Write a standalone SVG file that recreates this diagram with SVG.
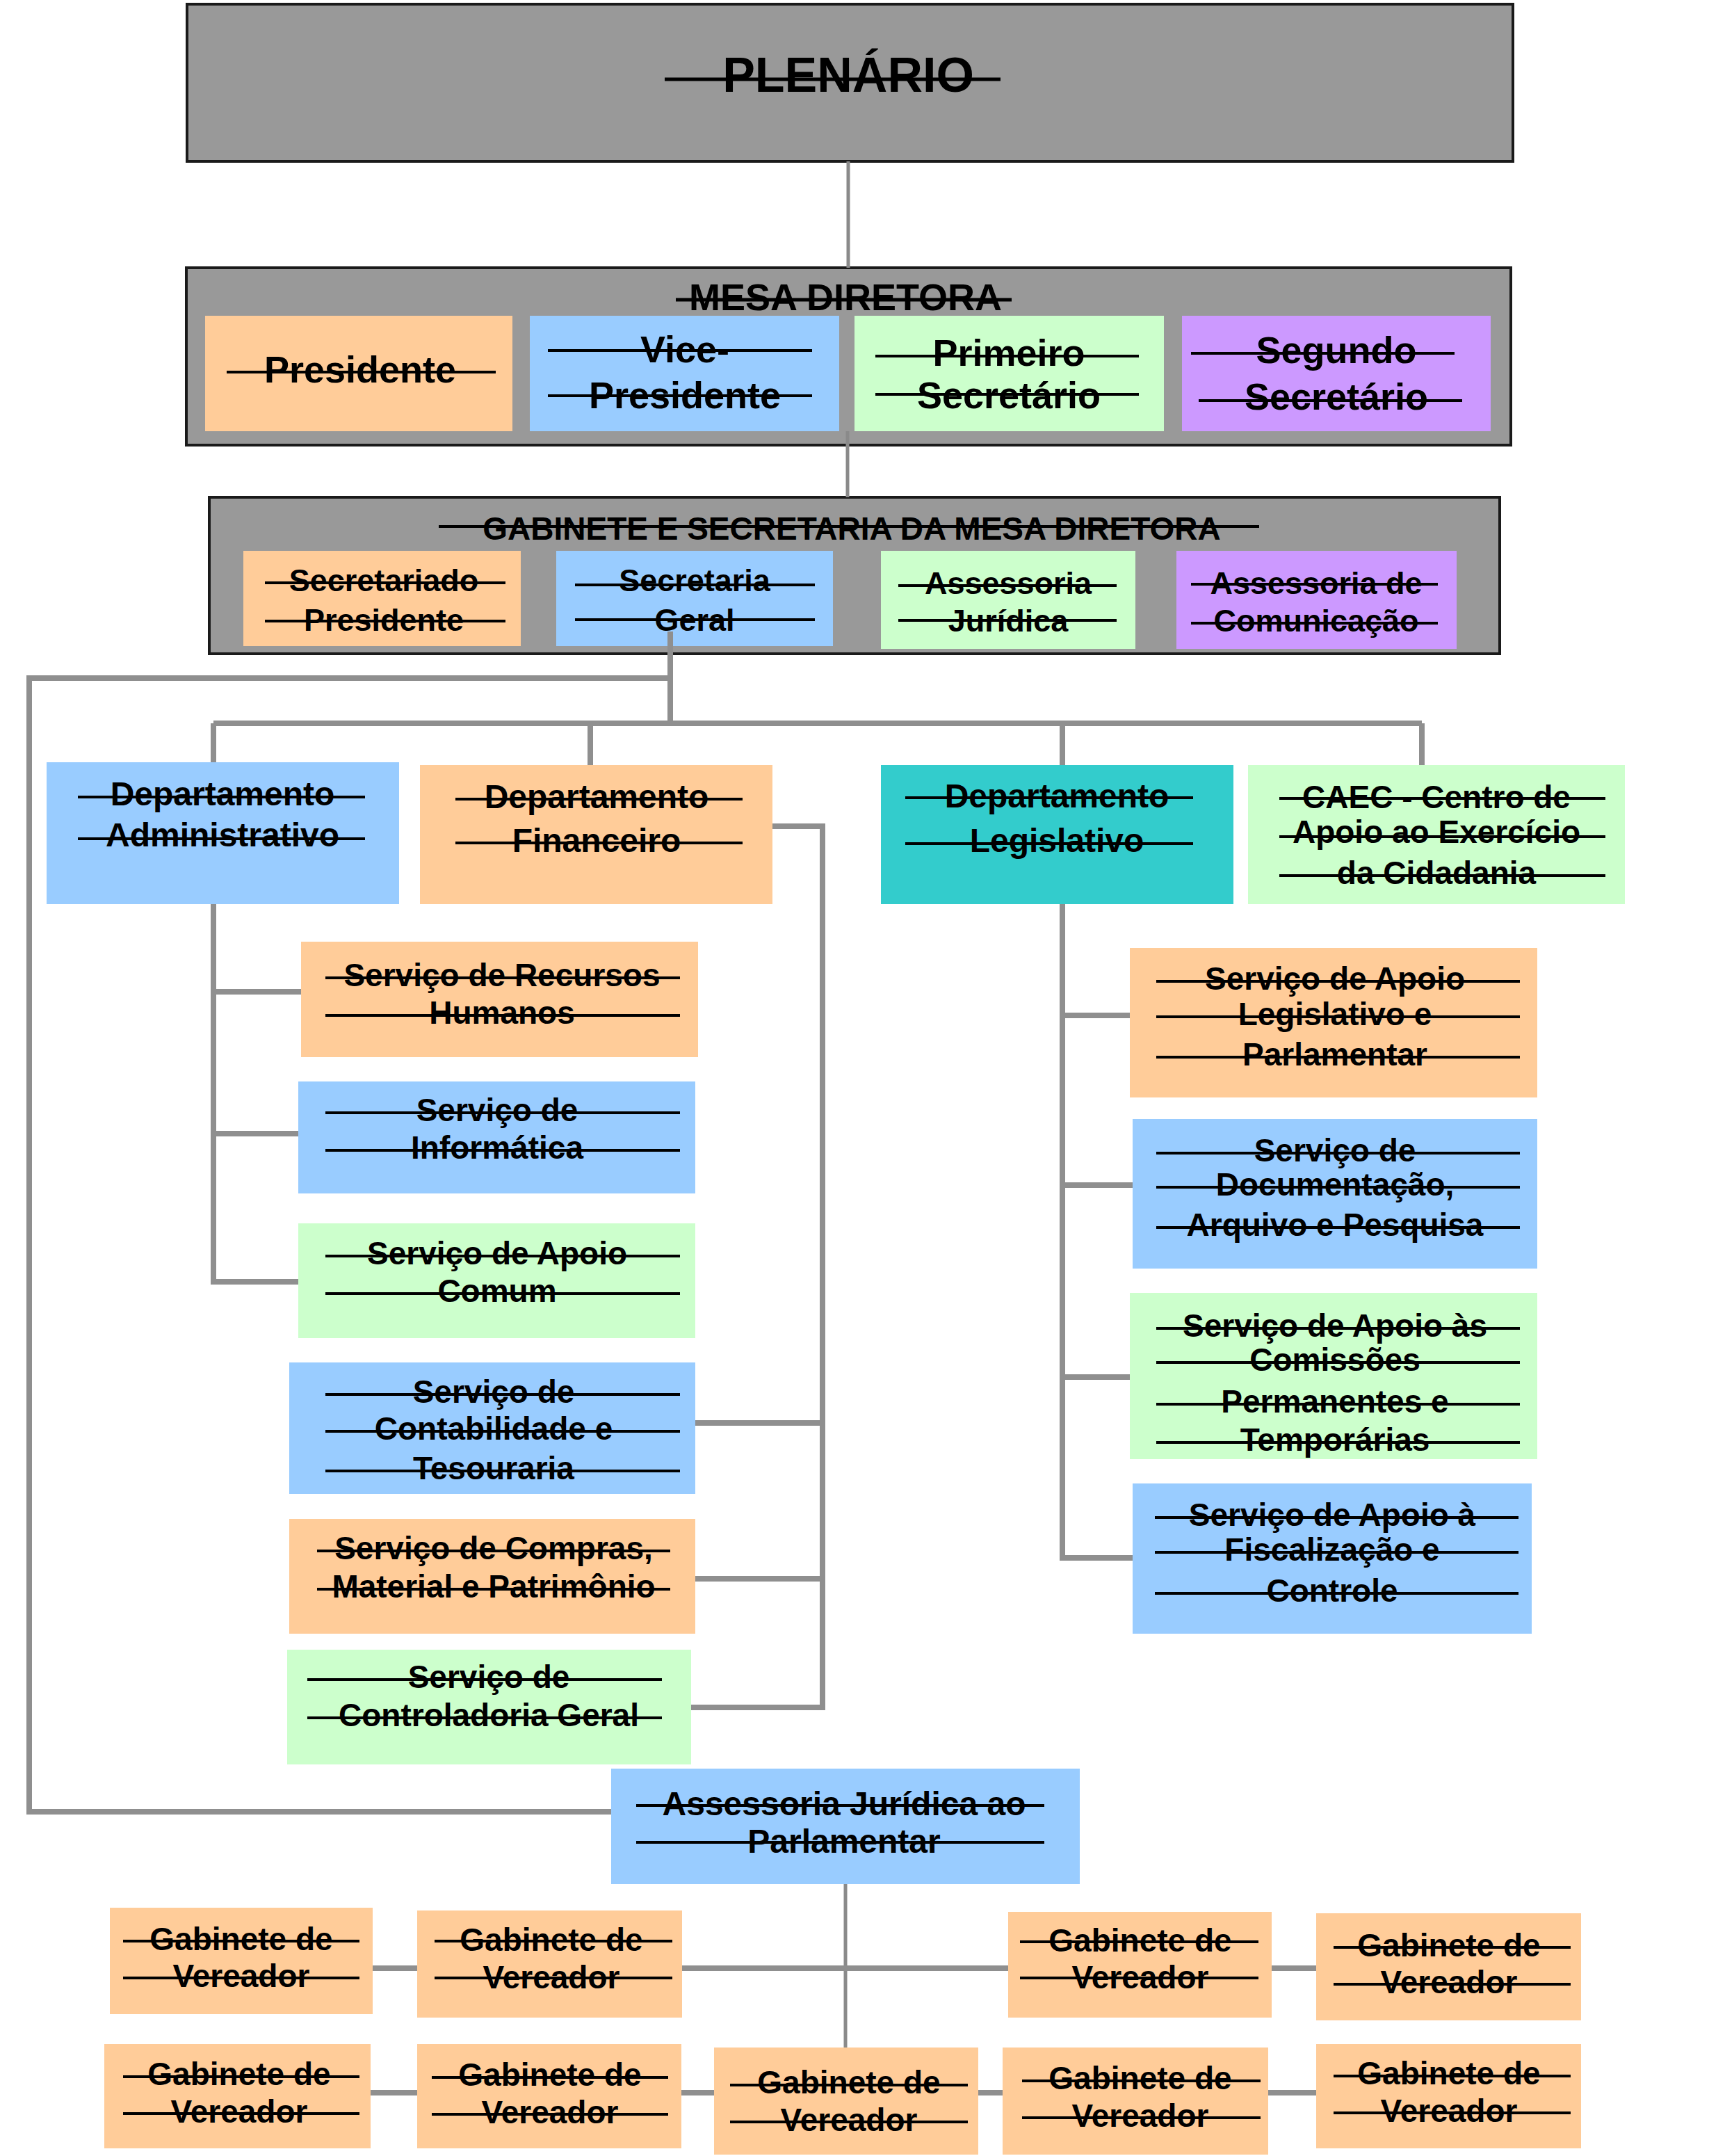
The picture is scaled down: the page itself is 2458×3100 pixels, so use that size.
<svg xmlns="http://www.w3.org/2000/svg" width="2458" height="3100" viewBox="0 0 2458 3100">
<style>
.t{font-family:"Liberation Sans",Arial,sans-serif;font-weight:bold;fill:#000;text-anchor:middle}
.s{stroke:#000;stroke-width:4}
.sb{stroke:#000;stroke-width:5}
.c{fill:none;stroke:#8f8f8f;stroke-width:8}
.ct{fill:none;stroke:#8a8a8a;stroke-width:5}
.g{fill:#999999;stroke:#1a1a1a;stroke-width:4}
.or{fill:#FFCC99}.bl{fill:#99CCFF}.gr{fill:#CCFFCC}.pu{fill:#CC99FF}.te{fill:#33CCCC}
.f70{font-size:70px}.f54{font-size:54px}.f48{font-size:48px}.f46{font-size:46px}.f45{font-size:45px}
</style>
<rect width="2458" height="3100" fill="#fff"/>

<g id="plenario">
<rect class="g" x="269" y="6" width="1907" height="226"/>
<text class="t f70" x="1220" y="132">PLENÁRIO</text>
<line class="sb" x1="956" y1="114" x2="1439" y2="114"/>
</g>

<g id="mesa-diretora">
<rect class="g" x="268" y="385" width="1905" height="255"/>
<text class="t f54" x="1216" y="446">MESA DIRETORA</text>
<line class="sb" x1="972" y1="431" x2="1455" y2="431"/>
</g>
<g id="presidente">
<rect class="or" x="295" y="454" width="442" height="166"/>
<text class="t f54" x="518" y="550">Presidente</text>
<line class="s" x1="326" y1="535" x2="713" y2="535"/>
</g>
<g id="vice-presidente">
<rect class="bl" x="762" y="454" width="445" height="166"/>
<text class="t f54" x="985" y="521">Vice-</text>
<text class="t f54" x="985" y="587">Presidente</text>
<line class="s" x1="788" y1="504" x2="1168" y2="504"/>
<line class="s" x1="788" y1="569" x2="1168" y2="569"/>
</g>
<g id="primeiro-secretario">
<rect class="gr" x="1229" y="454" width="445" height="166"/>
<text class="t f54" x="1451" y="526">Primeiro</text>
<text class="t f54" x="1451" y="587">Secretário</text>
<line class="s" x1="1259" y1="512" x2="1638" y2="512"/>
<line class="s" x1="1259" y1="567" x2="1638" y2="567"/>
</g>
<g id="segundo-secretario">
<rect class="pu" x="1700" y="454" width="444" height="166"/>
<text class="t f54" x="1922" y="522">Segundo</text>
<text class="t f54" x="1922" y="589">Secretário</text>
<line class="s" x1="1713" y1="508" x2="2092" y2="508"/>
<line class="s" x1="1724" y1="576" x2="2103" y2="576"/>
</g>

<g id="gabinete-secretaria">
<rect class="g" x="301" y="715" width="1856" height="225"/>
<text class="t f46" x="1225" y="776">GABINETE E SECRETARIA DA MESA DIRETORA</text>
<line class="s" x1="631" y1="757" x2="1811" y2="757"/>
</g>
<g id="secretariado-presidente">
<rect class="or" x="350" y="792" width="399" height="137"/>
<text class="t f45" x="552" y="850">Secretariado</text>
<text class="t f45" x="552" y="907">Presidente</text>
<line class="s" x1="381" y1="838" x2="727" y2="838"/>
<line class="s" x1="381" y1="893" x2="727" y2="893"/>
</g>
<g id="secretaria-geral">
<rect class="bl" x="800" y="792" width="398" height="137"/>
<text class="t f45" x="999" y="850">Secretaria</text>
<text class="t f45" x="999" y="907">Geral</text>
<line class="s" x1="827" y1="841" x2="1172" y2="841"/>
<line class="s" x1="827" y1="891" x2="1172" y2="891"/>
</g>
<g id="assessoria-juridica">
<rect class="gr" x="1267" y="792" width="366" height="141"/>
<text class="t f45" x="1450" y="854">Assessoria</text>
<text class="t f45" x="1450" y="908">Jurídica</text>
<line class="s" x1="1292" y1="842" x2="1606" y2="842"/>
<line class="s" x1="1292" y1="892" x2="1606" y2="892"/>
</g>
<g id="assessoria-comunicacao">
<rect class="pu" x="1692" y="792" width="403" height="141"/>
<text class="t f45" x="1893" y="854">Assessoria de</text>
<text class="t f45" x="1893" y="908">Comunicação</text>
<line class="s" x1="1713" y1="840" x2="2068" y2="840"/>
<line class="s" x1="1713" y1="896" x2="2068" y2="896"/>
</g>

<g id="dep-administrativo">
<rect class="bl" x="67" y="1096" width="507" height="204"/>
<text class="t f48" x="320" y="1158">Departamento</text>
<text class="t f48" x="320" y="1217">Administrativo</text>
<line class="s" x1="112" y1="1146" x2="525" y2="1146"/>
<line class="s" x1="112" y1="1206" x2="525" y2="1206"/>
</g>
<g id="dep-financeiro">
<rect class="or" x="604" y="1100" width="507" height="200"/>
<text class="t f48" x="858" y="1162">Departamento</text>
<text class="t f48" x="858" y="1225">Financeiro</text>
<line class="s" x1="655" y1="1149" x2="1068" y2="1149"/>
<line class="s" x1="655" y1="1212" x2="1068" y2="1212"/>
</g>
<g id="dep-legislativo">
<rect class="te" x="1267" y="1100" width="507" height="200"/>
<text class="t f48" x="1520" y="1161">Departamento</text>
<text class="t f48" x="1520" y="1225">Legislativo</text>
<line class="s" x1="1302" y1="1147" x2="1716" y2="1147"/>
<line class="s" x1="1302" y1="1213" x2="1716" y2="1213"/>
</g>
<g id="caec">
<rect class="gr" x="1795" y="1100" width="542" height="200"/>
<text class="t f46" x="2066" y="1162">CAEC - Centro de</text>
<text class="t f46" x="2066" y="1212">Apoio ao Exercício</text>
<text class="t f46" x="2066" y="1271">da Cidadania</text>
<line class="s" x1="1840" y1="1148" x2="2309" y2="1148"/>
<line class="s" x1="1840" y1="1203" x2="2309" y2="1203"/>
<line class="s" x1="1840" y1="1259" x2="2309" y2="1259"/>
</g>

<g id="servico-recursos-humanos">
<rect class="or" x="433" y="1354" width="571" height="166"/>
<text class="t f46" x="722" y="1418">Serviço de Recursos</text>
<text class="t f46" x="722" y="1472">Humanos</text>
<line class="s" x1="468" y1="1406" x2="978" y2="1406"/>
<line class="s" x1="468" y1="1460" x2="978" y2="1460"/>
</g>
<g id="servico-informatica">
<rect class="bl" x="429" y="1555" width="571" height="161"/>
<text class="t f46" x="715" y="1612">Serviço  de</text>
<text class="t f46" x="715" y="1666">Informática</text>
<line class="s" x1="468" y1="1600" x2="978" y2="1600"/>
<line class="s" x1="468" y1="1654" x2="978" y2="1654"/>
</g>
<g id="servico-apoio-comum">
<rect class="gr" x="429" y="1759" width="571" height="165"/>
<text class="t f46" x="715" y="1818">Serviço de Apoio</text>
<text class="t f46" x="715" y="1872">Comum</text>
<line class="s" x1="468" y1="1806" x2="978" y2="1806"/>
<line class="s" x1="468" y1="1860" x2="978" y2="1860"/>
</g>
<g id="servico-contabilidade">
<rect class="bl" x="416" y="1959" width="584" height="189"/>
<text class="t f46" x="710" y="2017">Serviço de</text>
<text class="t f46" x="710" y="2070">Contabilidade e</text>
<text class="t f46" x="710" y="2127">Tesouraria</text>
<line class="s" x1="468" y1="2005" x2="978" y2="2005"/>
<line class="s" x1="468" y1="2058" x2="978" y2="2058"/>
<line class="s" x1="468" y1="2115" x2="978" y2="2115"/>
</g>
<g id="servico-compras">
<rect class="or" x="416" y="2184" width="584" height="165"/>
<text class="t f46" x="710" y="2242">Serviço de Compras,</text>
<text class="t f46" x="710" y="2297">Material e Patrimônio</text>
<line class="s" x1="456" y1="2230" x2="964" y2="2230"/>
<line class="s" x1="456" y1="2285" x2="964" y2="2285"/>
</g>
<g id="servico-controladoria">
<rect class="gr" x="413" y="2372" width="581" height="165"/>
<text class="t f46" x="703" y="2427">Serviço de</text>
<text class="t f46" x="703" y="2482">Controladoria Geral</text>
<line class="s" x1="442" y1="2415" x2="952" y2="2415"/>
<line class="s" x1="442" y1="2470" x2="952" y2="2470"/>
</g>

<g id="servico-apoio-legislativo">
<rect class="or" x="1625" y="1363" width="586" height="215"/>
<text class="t f46" x="1920" y="1423">Serviço  de Apoio</text>
<text class="t f46" x="1920" y="1474">Legislativo  e</text>
<text class="t f46" x="1920" y="1532">Parlamentar</text>
<line class="s" x1="1663" y1="1411" x2="2186" y2="1411"/>
<line class="s" x1="1663" y1="1462" x2="2186" y2="1462"/>
<line class="s" x1="1663" y1="1520" x2="2186" y2="1520"/>
</g>
<g id="servico-documentacao">
<rect class="bl" x="1629" y="1609" width="582" height="215"/>
<text class="t f46" x="1920" y="1670">Serviço  de</text>
<text class="t f46" x="1920" y="1719">Documentação,</text>
<text class="t f46" x="1920" y="1777">Arquivo e Pesquisa</text>
<line class="s" x1="1663" y1="1658" x2="2186" y2="1658"/>
<line class="s" x1="1663" y1="1707" x2="2186" y2="1707"/>
<line class="s" x1="1663" y1="1765" x2="2186" y2="1765"/>
</g>
<g id="servico-comissoes">
<rect class="gr" x="1625" y="1859" width="586" height="239"/>
<text class="t f46" x="1920" y="1922">Serviço de Apoio às</text>
<text class="t f46" x="1920" y="1971">Comissões</text>
<text class="t f46" x="1920" y="2031">Permanentes e</text>
<text class="t f46" x="1920" y="2086">Temporárias</text>
<line class="s" x1="1663" y1="1910" x2="2186" y2="1910"/>
<line class="s" x1="1663" y1="1959" x2="2186" y2="1959"/>
<line class="s" x1="1663" y1="2019" x2="2186" y2="2019"/>
<line class="s" x1="1663" y1="2074" x2="2186" y2="2074"/>
</g>
<g id="servico-fiscalizacao">
<rect class="bl" x="1629" y="2133" width="574" height="216"/>
<text class="t f46" x="1916" y="2194">Serviço  de Apoio à</text>
<text class="t f46" x="1916" y="2244">Fiscalização  e</text>
<text class="t f46" x="1916" y="2303">Controle</text>
<line class="s" x1="1661" y1="2182" x2="2184" y2="2182"/>
<line class="s" x1="1661" y1="2232" x2="2184" y2="2232"/>
<line class="s" x1="1661" y1="2291" x2="2184" y2="2291"/>
</g>

<g id="assessoria-juridica-parlamentar">
<rect class="bl" x="879" y="2543" width="674" height="166"/>
<text class="t f48" x="1214" y="2610">Assessoria Jurídica ao</text>
<text class="t f48" x="1214" y="2664">Parlamentar</text>
<line class="s" x1="915" y1="2596" x2="1502" y2="2596"/>
<line class="s" x1="915" y1="2649" x2="1502" y2="2649"/>
</g>

<g id="gabinete-vereador-1">
<rect class="or" x="158" y="2743" width="378" height="153"/>
<text class="t f46" x="347" y="2804">Gabinete de</text>
<text class="t f46" x="347" y="2857">Vereador</text>
<line class="s" x1="177" y1="2791" x2="517" y2="2791"/>
<line class="s" x1="177" y1="2844" x2="517" y2="2844"/>
</g>
<g id="gabinete-vereador-2">
<rect class="or" x="600" y="2747" width="381" height="154"/>
<text class="t f46" x="793" y="2805">Gabinete de</text>
<text class="t f46" x="793" y="2859">Vereador</text>
<line class="s" x1="625" y1="2791" x2="967" y2="2791"/>
<line class="s" x1="625" y1="2844" x2="967" y2="2844"/>
</g>
<g id="gabinete-vereador-3">
<rect class="or" x="1450" y="2749" width="379" height="152"/>
<text class="t f46" x="1640" y="2806">Gabinete de</text>
<text class="t f46" x="1640" y="2859">Vereador</text>
<line class="s" x1="1467" y1="2792" x2="1810" y2="2792"/>
<line class="s" x1="1467" y1="2844" x2="1810" y2="2844"/>
</g>
<g id="gabinete-vereador-4">
<rect class="or" x="1893" y="2751" width="381" height="154"/>
<text class="t f46" x="2084" y="2813">Gabinete de</text>
<text class="t f46" x="2084" y="2866">Vereador</text>
<line class="s" x1="1918" y1="2800" x2="2259" y2="2800"/>
<line class="s" x1="1918" y1="2853" x2="2259" y2="2853"/>
</g>
<g id="gabinete-vereador-5">
<rect class="or" x="150" y="2939" width="383" height="150"/>
<text class="t f46" x="344" y="2998">Gabinete de</text>
<text class="t f46" x="344" y="3052">Vereador</text>
<line class="s" x1="177" y1="2986" x2="517" y2="2986"/>
<line class="s" x1="177" y1="3039" x2="517" y2="3039"/>
</g>
<g id="gabinete-vereador-6">
<rect class="or" x="600" y="2939" width="380" height="150"/>
<text class="t f46" x="791" y="2999">Gabinete de</text>
<text class="t f46" x="791" y="3053">Vereador</text>
<line class="s" x1="621" y1="2987" x2="961" y2="2987"/>
<line class="s" x1="621" y1="3040" x2="961" y2="3040"/>
</g>
<g id="gabinete-vereador-7">
<rect class="or" x="1027" y="2944" width="380" height="154"/>
<text class="t f46" x="1221" y="3010">Gabinete  de</text>
<text class="t f46" x="1221" y="3064">Vereador</text>
<line class="s" x1="1050" y1="2998" x2="1392" y2="2998"/>
<line class="s" x1="1050" y1="3051" x2="1392" y2="3051"/>
</g>
<g id="gabinete-vereador-8">
<rect class="or" x="1442" y="2944" width="382" height="154"/>
<text class="t f46" x="1640" y="3004">Gabinete de</text>
<text class="t f46" x="1640" y="3058">Vereador</text>
<line class="s" x1="1470" y1="2992" x2="1813" y2="2992"/>
<line class="s" x1="1470" y1="3045" x2="1813" y2="3045"/>
</g>
<g id="gabinete-vereador-9">
<rect class="or" x="1893" y="2939" width="381" height="150"/>
<text class="t f46" x="2084" y="2997">Gabinete de</text>
<text class="t f46" x="2084" y="3051">Vereador</text>
<line class="s" x1="1918" y1="2985" x2="2259" y2="2985"/>
<line class="s" x1="1918" y1="3038" x2="2259" y2="3038"/>
</g>

<g id="connectors">
<path class="ct" d="M1220 232V385"/>
<path class="ct" d="M1219 620V715"/>
<path class="c" d="M964 908V1040"/>
<path class="c" d="M964 975H42V2605H879"/>
<path class="c" d="M307 1040H2045"/>
<path class="c" d="M307 1040V1096M849 1040V1100M1528 1040V1100M2045 1040V1100"/>
<path class="c" d="M307 1300V1843H429M307 1426H433M307 1630H429"/>
<path class="c" d="M1111 1188H1183V2455H994M1000 2046H1183M1000 2270H1183"/>
<path class="c" d="M1528 1300V2240H1629M1528 1460H1625M1528 1704H1629M1528 1980H1625"/>
<path class="ct" d="M1216 2709V2944"/>
<path class="c" d="M536 2830H600M981 2830H1450M1829 2830H1893"/>
<path class="c" d="M533 3009H600M980 3009H1027M1407 3009H1442M1824 3009H1893"/>
</g>
</svg>
